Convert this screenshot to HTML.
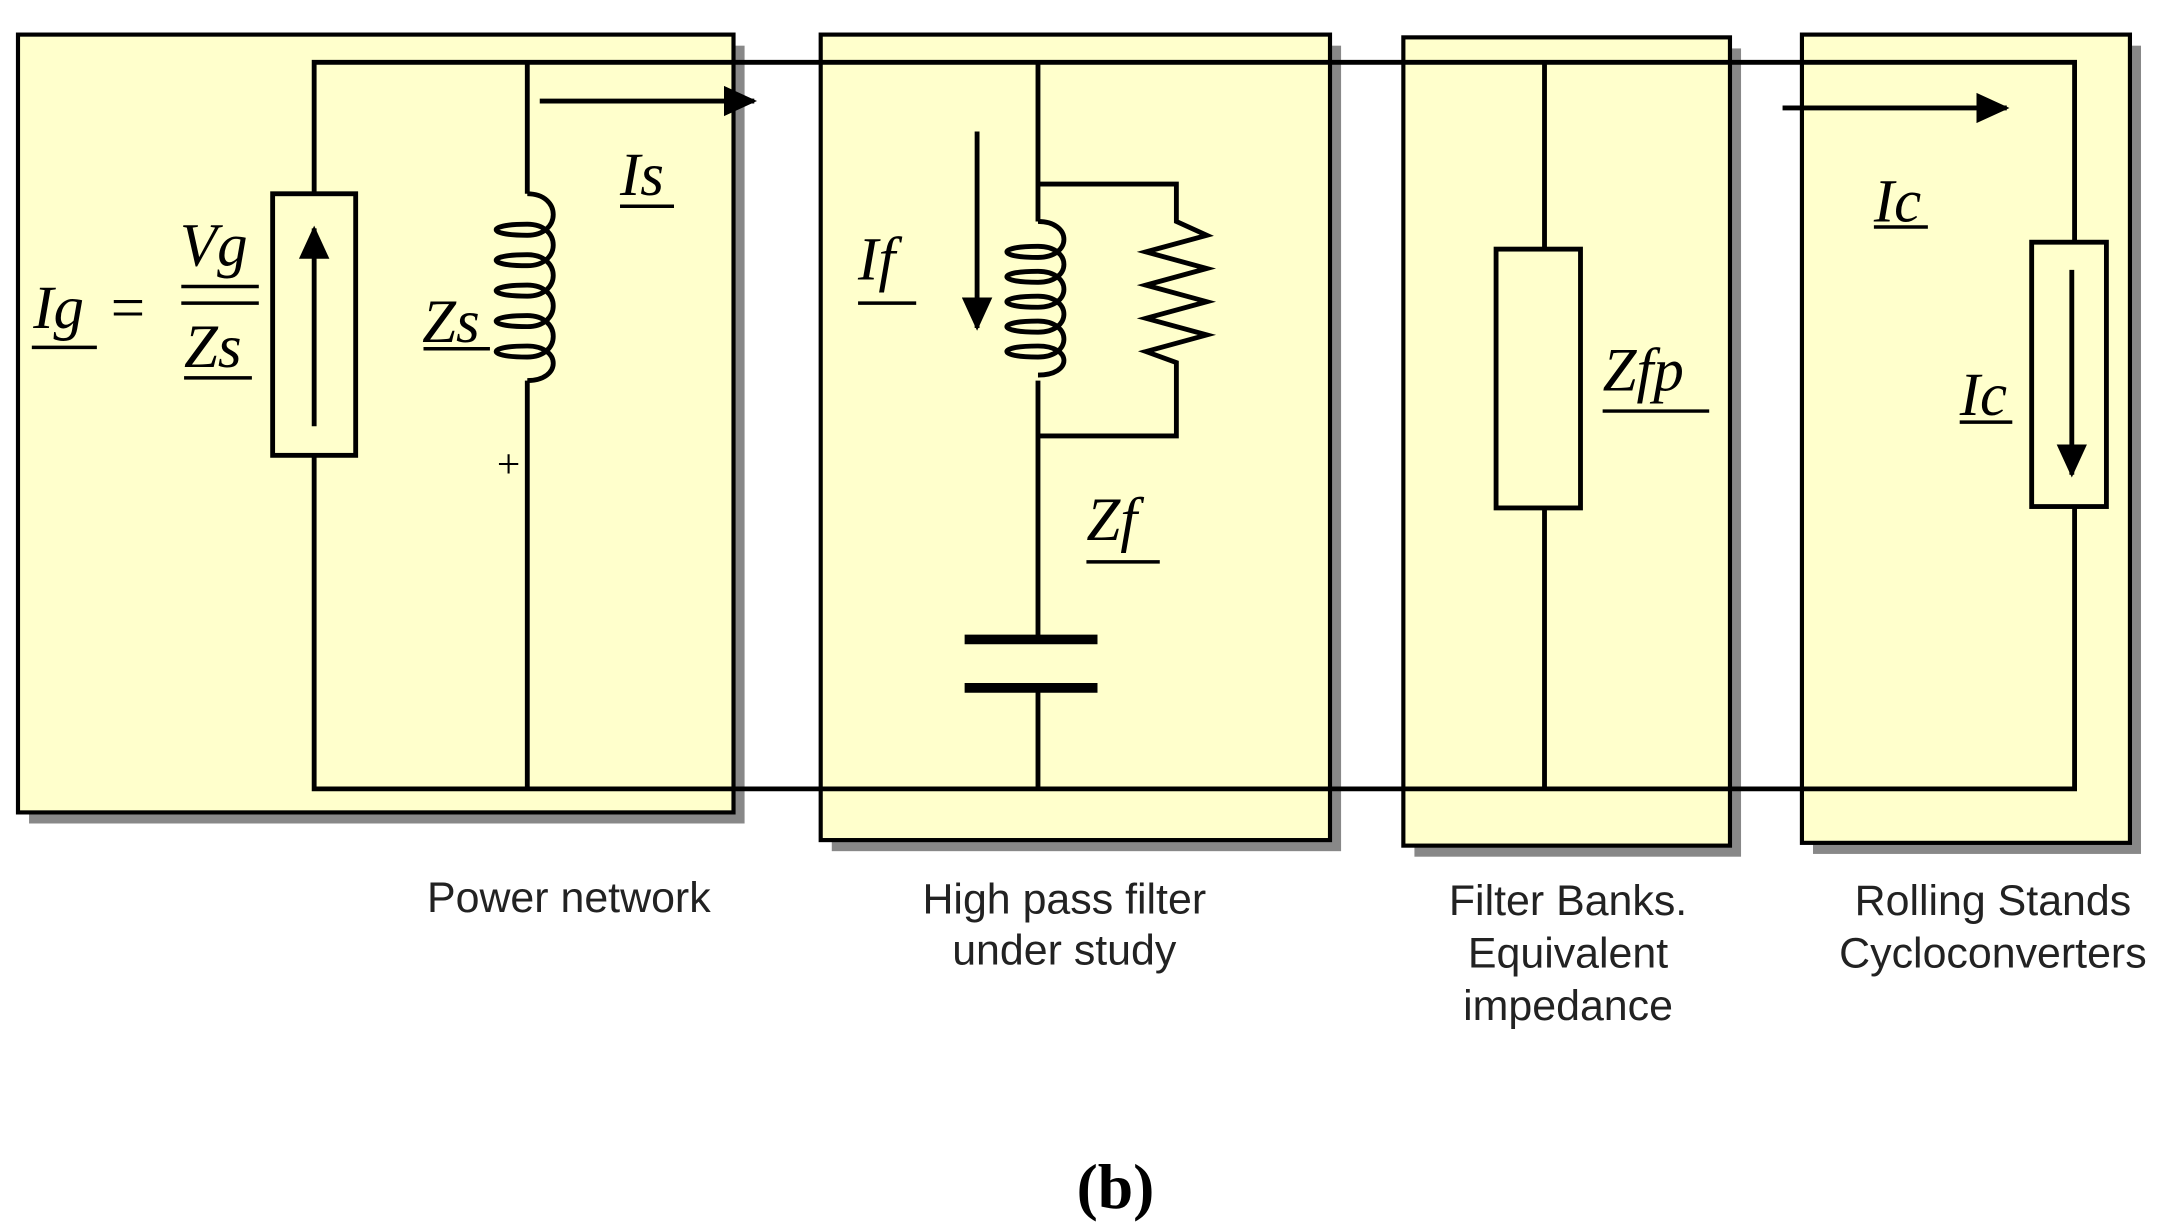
<!DOCTYPE html>
<html><head><meta charset="utf-8"><style>
html,body{margin:0;padding:0;background:#fff;}
svg{display:block;}
.m{font-family:"Liberation Serif",serif;font-style:italic;font-size:44px;}
.t{font-family:"Liberation Sans",sans-serif;font-size:31px;fill:#222;}
</style></head><body>
<svg width="2159" height="1229" viewBox="0 0 1560 888" preserveAspectRatio="none" xmlns="http://www.w3.org/2000/svg">
<defs><marker id="a" markerWidth="24" markerHeight="22" refX="22" refY="11" orient="auto" markerUnits="userSpaceOnUse" viewBox="0 0 24 22"><path d="M0,0 L24,11 L0,22z"/></marker></defs>
<g fill="#888">
<rect x="21" y="33" width="517" height="562"/>
<rect x="601" y="33" width="368" height="582"/>
<rect x="1022" y="35" width="236" height="584"/>
<rect x="1310" y="33" width="237" height="584"/>
</g>
<g fill="#ffffcc" stroke="#000" stroke-width="3">
<rect x="13" y="25" width="517" height="562"/>
<rect x="593" y="25" width="368" height="582"/>
<rect x="1014" y="27" width="236" height="584"/>
<rect x="1302" y="25" width="237" height="584"/>
</g>
<g fill="none" stroke="#000" stroke-width="3.5">
<path d="M227,140 V45 H1499 V175 M1499,366 V570 H227 V329"/>
<rect x="197" y="140" width="60" height="189"/>
<path d="M381,45 V140"/>
<path d="M381,140 c25,0 25,30 0,30 c-30,0 -30,-8 0,-8 c25,0 25,30 0,30 c-30,0 -30,-8 0,-8 c25,0 25,30 0,30 c-30,0 -30,-8 0,-8 c25,0 25,30 0,30 c-30,0 -30,-8 0,-8 c25,0 25,30 0,30 c-30,0 -30,-8 0,-8 c25,0 25,25 0,25"/>
<path d="M381,275 V570"/>
<path d="M750,45 V160 M750,133 H850 V160 l22,10 l-44,12 l44,12 l-44,12 l44,12 l-44,12 l44,12 l-44,12 l22,8 V315 H750"/>
<path d="M750,160 c25,0 25,26 0,26 c-30,0 -30,-8 0,-8 c25,0 25,26 0,26 c-30,0 -30,-8 0,-8 c25,0 25,26 0,26 c-30,0 -30,-8 0,-8 c25,0 25,26 0,26 c-30,0 -30,-8 0,-8 c25,0 25,26 0,26 c-30,0 -30,-8 0,-8 c25,0 25,21 0,21"/>
<path d="M750,275 V462 M750,497 V570"/>
<path d="M1116,45 V180 M1116,367 V570"/>
<rect x="1081" y="180" width="61" height="187"/>
<rect x="1468" y="175" width="54" height="191"/>
</g>
<g stroke="#000" stroke-width="7"><path d="M697,462 H793 M697,497 H793"/></g>
<g stroke="#000" stroke-width="3.5" fill="none" marker-end="url(#a)">
<path d="M227,308 V165"/>
<path d="M390,73 H545"/>
<path d="M706,95 V237"/>
<path d="M1288,78 H1450"/>
<path d="M1497,195 V343"/>
</g>
<g class="m">
<text x="24" y="237">Ig</text><text x="80" y="237" style="font-style:normal">=</text>
<text x="130" y="192">Vg</text><text x="133" y="265">Zs</text>
<text x="305" y="247">Zs</text><text x="448" y="141">Is</text>
<text x="620" y="202">If</text><text x="785" y="390">Zf</text>
<text x="1158" y="282">Zfp</text><text x="1354" y="160">Ic</text><text x="1416" y="300">Ic</text>
</g>
<g stroke="#000" stroke-width="2.5">
<path d="M23,251 H70 M131,207 H187 M131,219 H187 M133,273 H182 M306,252 H354 M448,149 H487 M620,219 H662 M785,406 H838 M1158,297 H1235 M1354,164 H1393 M1416,305 H1454"/>
</g>
<text x="359" y="345" style="font-family:'Liberation Serif',serif;font-size:30px">+</text>
<g class="t">
<text x="411" y="659" text-anchor="middle">Power network</text>
<text x="769" y="660" text-anchor="middle">High pass filter</text>
<text x="769" y="697" text-anchor="middle">under study</text>
<text x="1133" y="661" text-anchor="middle">Filter Banks.</text>
<text x="1133" y="699" text-anchor="middle">Equivalent</text>
<text x="1133" y="737" text-anchor="middle">impedance</text>
<text x="1440" y="661" text-anchor="middle">Rolling Stands</text>
<text x="1440" y="699" text-anchor="middle">Cycloconverters</text>
</g>
<text x="806" y="873" text-anchor="middle" style="font-family:'Liberation Serif',serif;font-size:46px;font-weight:bold">(b)</text>
</svg>
</body></html>
